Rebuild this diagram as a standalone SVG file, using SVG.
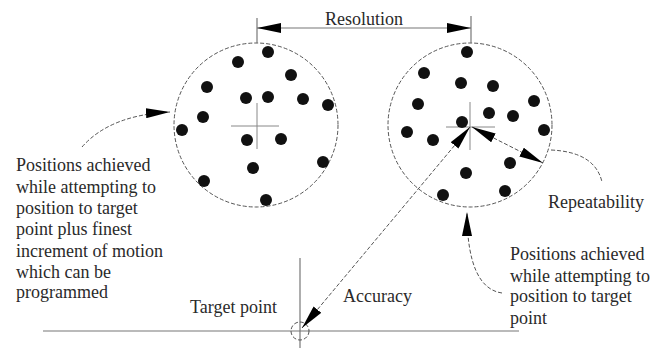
<svg xmlns="http://www.w3.org/2000/svg" width="656" height="348" viewBox="0 0 656 348">
<style>
  .txt { font-family: "Liberation Serif", "Times New Roman", serif; font-size: 18px; fill: #2a2a2a; }
  .dash { fill: none; stroke: #555; stroke-width: 1; stroke-dasharray: 4 2; }
  .solid { fill: none; stroke: #777; stroke-width: 1.2; }
  .cross { stroke: #888; stroke-width: 1; }
  .dot { fill: #111; }
</style>
<defs>
  <marker id="ah" viewBox="0 0 24 10" refX="24" refY="5" markerWidth="24" markerHeight="10" markerUnits="userSpaceOnUse" orient="auto-start-reverse">
    <path d="M0,0 L24,5 L0,10 z" fill="#000"/>
  </marker>
</defs>
<rect width="656" height="348" fill="#fff"/>

<g id="left-cluster">
  <circle cx="256" cy="125" r="82" class="dash"/>
  <line x1="231" y1="126" x2="279" y2="126" class="cross"/>
  <line x1="257" y1="103" x2="257" y2="149" class="cross"/>
  <g class="dot">
    <circle cx="268" cy="52" r="6"/>
    <circle cx="238" cy="62" r="6"/>
    <circle cx="291" cy="75" r="6"/>
    <circle cx="207" cy="87" r="6"/>
    <circle cx="246" cy="98" r="6"/>
    <circle cx="268" cy="97" r="6"/>
    <circle cx="303" cy="99" r="6"/>
    <circle cx="328" cy="105" r="6"/>
    <circle cx="203" cy="117" r="6"/>
    <circle cx="182" cy="130" r="6"/>
    <circle cx="247" cy="140" r="6"/>
    <circle cx="281" cy="139" r="6"/>
    <circle cx="253" cy="168" r="6"/>
    <circle cx="323" cy="162" r="6"/>
    <circle cx="204" cy="181" r="6"/>
    <circle cx="266" cy="200" r="6"/>
  </g>
</g>

<g id="right-cluster">
  <circle cx="470" cy="125" r="82" class="dash"/>
  <line x1="446" y1="127" x2="495" y2="127" class="cross"/>
  <line x1="470" y1="102" x2="470" y2="150" class="cross"/>
  <g class="dot">
    <circle cx="467" cy="52" r="6"/>
    <circle cx="424" cy="73" r="6"/>
    <circle cx="461" cy="83" r="6"/>
    <circle cx="493" cy="86" r="6"/>
    <circle cx="418" cy="104" r="6"/>
    <circle cx="534" cy="101" r="6"/>
    <circle cx="489" cy="113" r="6"/>
    <circle cx="513" cy="116" r="6"/>
    <circle cx="462" cy="122" r="6"/>
    <circle cx="407" cy="132" r="6"/>
    <circle cx="433" cy="140" r="6"/>
    <circle cx="544" cy="130" r="6"/>
    <circle cx="510" cy="163" r="6"/>
    <circle cx="466" cy="173" r="6"/>
    <circle cx="443" cy="195" r="6"/>
    <circle cx="505" cy="191" r="6"/>
  </g>
</g>

<g id="target">
  <line x1="43" y1="331" x2="519" y2="331" class="solid"/>
  <line x1="300" y1="258" x2="300" y2="348" class="solid"/>
  <circle cx="300" cy="331" r="9" class="dash"/>
  <text x="190" y="313" class="txt">Target point</text>
</g>

<g id="resolution">
  <line x1="257" y1="18" x2="257" y2="43" class="solid"/>
  <line x1="471" y1="16" x2="471" y2="43" class="solid"/>
  <text x="364" y="25" class="txt" text-anchor="middle">Resolution</text>
</g>

<g id="labels">
  <text class="txt" x="16" y="171">Positions achieved</text>
  <text class="txt" x="16" y="193">while attempting to</text>
  <text class="txt" x="16" y="214">position to target</text>
  <text class="txt" x="16" y="235">point plus finest</text>
  <text class="txt" x="16" y="257">increment of motion</text>
  <text class="txt" x="16" y="278">which can be</text>
  <text class="txt" x="16" y="298">programmed</text>

  <text class="txt" x="510" y="260">Positions achieved</text>
  <text class="txt" x="510" y="282">while attempting to</text>
  <text class="txt" x="510" y="302">position to target</text>
  <text class="txt" x="510" y="324">point</text>

  <text class="txt" x="548" y="208">Repeatability</text>
  <text class="txt" x="343" y="302">Accuracy</text>
</g>

<g id="connectors">
  <line x1="257" y1="28" x2="471" y2="28" class="solid" marker-start="url(#ah)" marker-end="url(#ah)"/>
  <line x1="302" y1="328" x2="470" y2="127" class="dash" marker-start="url(#ah)" marker-end="url(#ah)"/>
  <line x1="472" y1="127" x2="543" y2="163" class="dash" marker-start="url(#ah)" marker-end="url(#ah)"/>
  <path d="M82,147 Q110,115 170,112" class="dash" marker-end="url(#ah)"/>
  <path d="M502,293 C480,290 467,265 467,212" class="dash" marker-end="url(#ah)"/>
  <path d="M551,150 Q595,152 602,182" class="dash"/>
</g>
</svg>
